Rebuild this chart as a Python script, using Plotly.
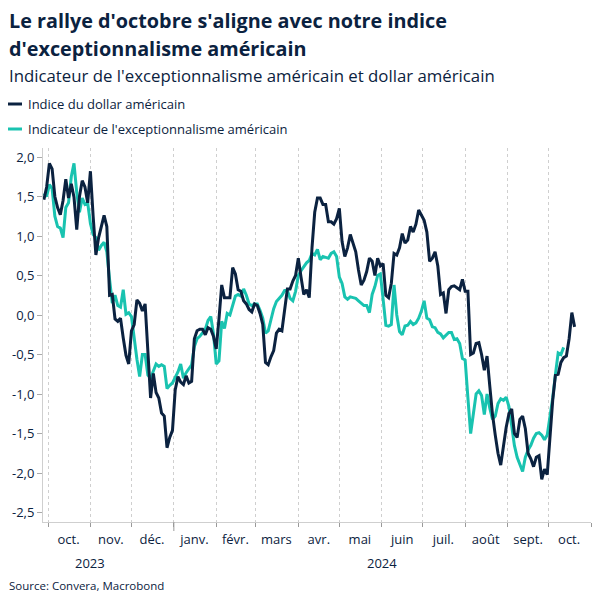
import pandas as pd
import plotly.graph_objects as go

# ---- data (one value every 2 days from 2023-09-28) ----
start_date = "2023-09-28"
step = "2D"

dollar_index = [
    1.46, 1.62, 1.92, 1.85, 1.50, 1.36, 1.27, 1.45, 1.72, 1.48,
    1.66, 1.49, 1.08, 1.50, 1.70, 1.62, 1.42, 1.82, 1.25, 0.76,
    0.98, 1.14, 1.26, 1.12, 0.25, 0.26, -0.05, -0.08, -0.04, -0.29,
    -0.51, -0.62, -0.20, -0.12, 0.19, 0.15, 0.05, 0.14, -0.40, -1.05,
    -0.74, -0.98, -1.05, -1.24, -1.28, -1.68, -1.55, -1.46, -0.95, -0.78,
    -0.85, -0.88, -0.77, -0.86, -0.84, -0.30, -0.20, -0.18, -0.18, -0.25,
    -0.16, -0.18, -0.27, -0.43, -0.05, 0.38, 0.22, 0.22, 0.22, 0.60,
    0.52, 0.32, 0.30, 0.18, 0.14, 0.07, 0.04, 0.14, 0.12, 0.02,
    -0.12, -0.60, -0.63, -0.53, -0.45, -0.23, -0.18, -0.20, 0.08, 0.33,
    0.33, 0.43, 0.50, 0.72, 0.48, 0.26, 0.32, 0.22, 0.85, 1.30,
    1.48, 1.48, 1.40, 1.40, 1.18, 1.18, 1.15, 1.22, 1.35, 0.93,
    0.74, 0.85, 1.02, 0.92, 0.80, 0.57, 0.38, 0.44, 0.55, 0.72,
    0.68, 0.50, 0.72, 0.62, 0.65, 0.25, 0.22, 0.40, 0.78, 0.76,
    0.85, 1.03, 0.91, 0.95, 1.12, 1.05, 1.15, 1.33, 1.26, 1.20,
    1.05, 0.68, 0.72, 0.80, 0.62, 0.26, 0.28, 0.02, 0.32, 0.36,
    0.37, 0.34, 0.32, 0.45, 0.30, 0.30, -0.50, -0.48, -0.36, -0.35,
    -0.50, -0.70, -0.52, -0.90, -1.26, -1.52, -1.75, -1.90, -1.65, -1.42,
    -1.25, -1.19, -1.50, -1.55, -1.32, -1.28, -1.44, -1.75, -1.82, -1.92,
    -1.80, -1.78, -2.08, -1.95, -2.02, -1.52, -1.08, -0.76, -0.75, -0.60,
    -0.54, -0.52, -0.30, 0.03, -0.15,
]

exceptionalism = [
    1.54, 1.50, 1.65, 1.60, 1.25, 1.12, 1.10, 0.98, 1.36, 1.42,
    1.75, 1.92, 1.55, 1.30, 1.48, 1.40, 1.42, 1.16, 1.02, 0.98,
    0.82, 0.88, 0.92, 0.80, 0.45, 0.15, 0.25, 0.12, 0.10, 0.32,
    0.01, 0.03, -0.02, -0.30, -0.56, -0.78, -0.50, -0.50, -0.76, -0.80,
    -0.70, -0.62, -0.65, -0.63, -0.65, -0.93, -0.89, -0.86, -0.79, -0.72,
    -0.62, -0.80, -0.73, -0.68, -0.63, -0.40, -0.30, -0.27, -0.22, -0.18,
    -0.07, -0.02, -0.24, -0.62, -0.58, -0.08, -0.17, 0.02, 0.00, 0.13,
    0.24, 0.26, 0.24, 0.33, 0.25, 0.14, 0.12, 0.14, 0.14, 0.06,
    -0.04, -0.23, -0.20, -0.06, 0.08, 0.17, 0.21, 0.25, 0.31, 0.31,
    0.21, 0.18, 0.30, 0.50, 0.56, 0.61, 0.66, 0.69, 0.78, 0.76,
    0.83, 0.70, 0.74, 0.73, 0.72, 0.78, 0.80, 0.74, 0.48, 0.40,
    0.23, 0.20, 0.23, 0.22, 0.21, 0.18, 0.15, 0.12, 0.12, 0.03,
    0.26, 0.36, 0.50, 0.52, 0.20, -0.13, -0.14, -0.12, 0.38, 0.00,
    -0.21, -0.25, -0.14, -0.13, -0.08, -0.12, -0.10, -0.04, 0.05, 0.18,
    -0.04, -0.06, -0.15, -0.16, -0.22, -0.24, -0.29, -0.25, -0.22, -0.22,
    -0.31, -0.30, -0.36, -0.55, -0.57, -1.05, -1.50, -1.25, -1.00, -0.96,
    -1.02, -1.26, -1.00, -1.18, -1.32, -1.28, -1.12, -1.06, -1.08, -1.04,
    -1.16, -1.40, -1.65, -1.80, -1.88, -1.98, -1.80, -1.71, -1.65, -1.56,
    -1.50, -1.49, -1.52, -1.58, -1.52, -1.30, -1.05, -0.75, -0.48, -0.50,
    -0.41,
]

series_names = ["Indice du dollar américain", "Indicateur de l'exceptionnalisme américain"]

month_tick_dates = ["2023-10-16", "2023-11-16", "2023-12-16", "2024-01-16", "2024-02-15",
                    "2024-03-16", "2024-04-16", "2024-05-16", "2024-06-16", "2024-07-16",
                    "2024-08-16", "2024-09-16", "2024-10-16"]
month_tick_labels = ["oct.", "nov.", "déc.", "janv.", "févr.", "mars", "avr.",
                     "mai", "juin", "juil.", "août", "sept.", "oct."]
year_labels = ["2023", "2024"]
year_label_dates = ["2023-11-01", "2024-06-01"]

y_tick_values = [-2.5, -2.0, -1.5, -1.0, -0.5, 0.0, 0.5, 1.0, 1.5, 2.0]
y_tick_labels = ["-2,5", "-2,0", "-1,5", "-1,0", "-0,5", "0,0", "0,5", "1,0", "1,5", "2,0"]

title_lines = ["Le rallye d'octobre s'aligne avec notre indice", "d'exceptionnalisme américain"]
subtitle = "Indicateur de l'exceptionnalisme américain et dollar américain"
source_text = "Source: Convera, Macrobond"

# ---- styling ----
NAVY = "#0b2240"
TEAL = "#19c3b0"
GRID = "#cfcfcf"
AXIS = "#cfcfcf"
FONT = "'Open Sans', 'Noto Sans', sans-serif"

dates_dollar = pd.date_range(start_date, periods=len(dollar_index), freq=step)
dates_exc = pd.date_range(start_date, periods=len(exceptionalism), freq=step)

fig = go.Figure()
fig.add_trace(go.Scatter(x=dates_exc, y=exceptionalism, mode="lines", name=series_names[1],
                         line=dict(color=TEAL, width=3)))
fig.add_trace(go.Scatter(x=dates_dollar, y=dollar_index, mode="lines", name=series_names[0],
                         line=dict(color=NAVY, width=3)))

# the page body has an 8px margin: the figure is 596x596 and starts at page (8, 8)
OFF = 8
W = H = 604 - OFF
L, R, T, B = 43 - OFF, 13, 148 - OFF, 82
pw, ph = W - L - R, H - T - B

def px_x(x):  # page pixel -> paper x
    return (x - OFF - L) / pw

def px_y(y):  # page pixel -> paper y
    return (H - B - (y - OFF)) / ph

ann = []
ann.append(dict(text="<b>" + title_lines[0] + "</b>", x=px_x(7), y=px_y(20)))
ann.append(dict(text="<b>" + title_lines[1] + "</b>", x=px_x(7), y=px_y(48)))
for a in ann:
    a.update(xref="paper", yref="paper", xanchor="left", yanchor="middle", showarrow=False,
             font=dict(size=19.8, color=NAVY, family=FONT))
ann.append(dict(text=subtitle, x=px_x(7), y=px_y(75), xref="paper", yref="paper",
                xanchor="left", yanchor="middle", showarrow=False,
                font=dict(size=16.8, color=NAVY, family=FONT)))
legend_y = [104, 129]
for name, yy in zip(series_names, legend_y):
    ann.append(dict(text=name, x=px_x(26), y=px_y(yy), xref="paper", yref="paper",
                    xanchor="left", yanchor="middle", showarrow=False,
                    font=dict(size=13, color=NAVY, family=FONT)))
ann.append(dict(text=source_text, x=px_x(7), y=px_y(585), xref="paper", yref="paper",
                xanchor="left", yanchor="middle", showarrow=False,
                font=dict(size=11.5, color=NAVY, family=FONT)))
for lab, d in zip(year_labels, year_label_dates):
    ann.append(dict(text=lab, x=d, y=px_y(563), xref="x", yref="paper",
                    xanchor="center", yanchor="middle", showarrow=False,
                    font=dict(size=13, color=NAVY, family=FONT)))

shapes = []
for col, yy in zip([NAVY, TEAL], legend_y):
    shapes.append(dict(type="line", xref="paper", yref="paper",
                       x0=px_x(8), x1=px_x(22), y0=px_y(yy), y1=px_y(yy),
                       line=dict(color=col, width=3)))
shapes.append(dict(type="line", xref="x", yref="paper", x0="2024-01-01", x1="2024-01-01",
                   y0=0, y1=px_y(531), line=dict(color="#999999", width=1)))

fig.update_layout(
    width=W, height=H,
    margin=dict(l=L, r=R, t=T, b=B, autoexpand=False),
    paper_bgcolor="white", plot_bgcolor="white",
    showlegend=False,
    annotations=ann, shapes=shapes,
    font=dict(family=FONT, color=NAVY, size=13),
)
fig.update_xaxes(
    type="date", automargin=False,
    range=["2023-09-27 08:00", "2024-11-01"],
    tickmode="array", tickvals=month_tick_dates, ticktext=month_tick_labels,
    ticks="", showgrid=False, ticklabelstandoff=5,
    showline=True, linecolor=AXIS, linewidth=1,
    tickfont=dict(size=13, color=NAVY, family=FONT),
    minor=dict(dtick="M1", tick0="2023-10-01", ticks="outside", ticklen=4,
               tickcolor="#999999", showgrid=True, gridcolor=GRID, griddash="dot", gridwidth=1),
    zeroline=False,
)
fig.update_yaxes(
    automargin=False,
    range=[-2.62, 2.114],
    tickmode="array", tickvals=y_tick_values, ticktext=y_tick_labels,
    ticks="outside", ticklen=5, tickcolor="#aaaaaa",
    showgrid=False, zeroline=False,
    showline=True, linecolor=AXIS, linewidth=1,
    tickfont=dict(size=13, color=NAVY, family=FONT),
)

fig.write_html("out.html")
